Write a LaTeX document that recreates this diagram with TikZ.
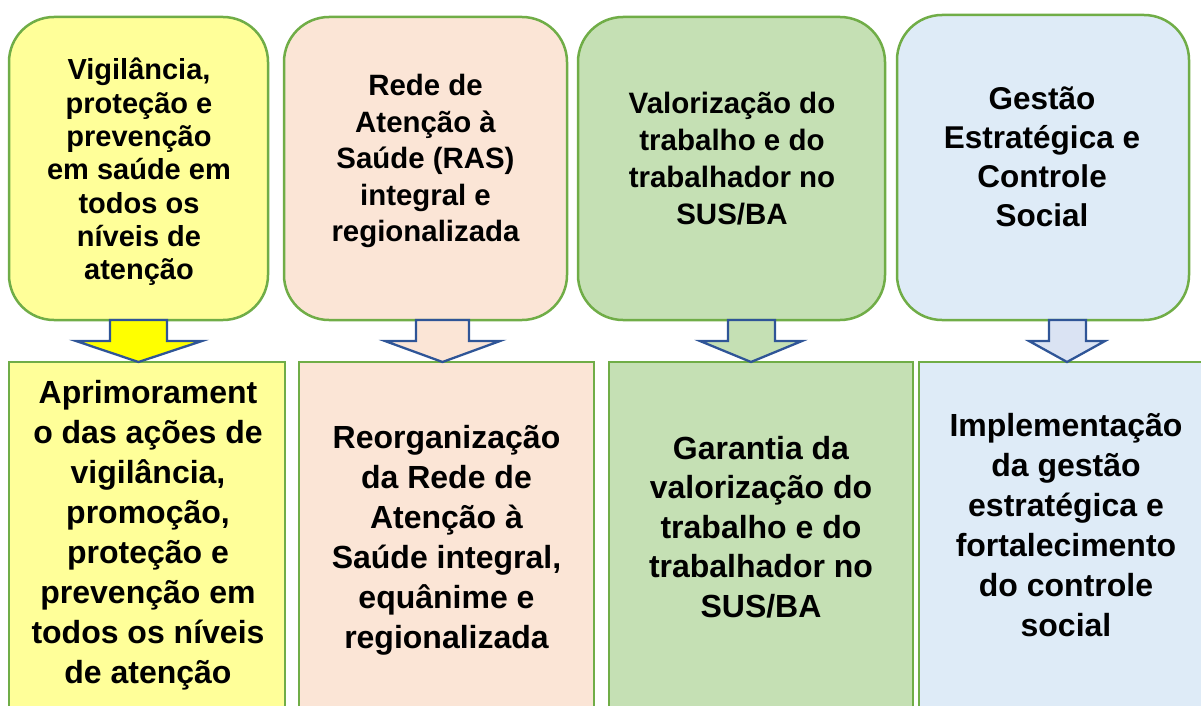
\documentclass[tikz,border=0pt]{standalone}
\usepackage{fontspec}
\setmainfont{Liberation Sans}
\definecolor{yelbox}{HTML}{FFFF99}
\definecolor{yelarrow}{HTML}{FFFF00}
\definecolor{pinkbox}{HTML}{FBE5D6}
\definecolor{greenbox}{HTML}{C5E0B4}
\definecolor{bluebox}{HTML}{DEEBF7}
\definecolor{bluearrow}{HTML}{DAE3F3}
\definecolor{bordergreen}{HTML}{70AD47}
\definecolor{arrowblue}{HTML}{2F5597}
\begin{document}
\begin{tikzpicture}[x=1pt,y=-1pt,
  topbox/.style={draw=bordergreen, line width=2.5pt, rounded corners=45pt},
  botbox/.style={draw=bordergreen, line width=2.5pt},
  lbl/.style={align=center, text=black, inner sep=0pt},
  blockarrow/.style={draw=arrowblue, line width=2.3pt, line join=miter}]
\useasboundingbox (0,0) rectangle (1201,706);
\begin{scope}
\clip (0,0) rectangle (1201,706);
% top boxes
\draw[topbox, fill=yelbox] (9,17) rectangle (268,320);
\draw[topbox, fill=pinkbox] (284,17) rectangle (567,320);
\draw[topbox, fill=greenbox] (578,17) rectangle (885,320);
\draw[topbox, fill=bluebox] (897,15) rectangle (1189,320);
% bottom boxes
\draw[botbox, fill=yelbox] (9,362) rectangle (285,720);
\draw[botbox, fill=pinkbox] (299,362) rectangle (594,720);
\draw[botbox, fill=greenbox] (609,362) rectangle (913,720);
\draw[botbox, fill=bluebox] (919,362) rectangle (1213,720);
% block arrows
\draw[blockarrow, fill=yelarrow] (110,320) -- (167,320) -- (167,341) -- (202,341) -- (138.5,362) -- (76,341) -- (110,341) -- cycle;
\draw[blockarrow, fill=pinkbox] (416,320) -- (469,320) -- (469,341) -- (500,341) -- (442.5,362) -- (385,341) -- (416,341) -- cycle;
\draw[blockarrow, fill=greenbox] (728,320) -- (775,320) -- (775,341) -- (802,341) -- (751,362) -- (700,341) -- (728,341) -- cycle;
\draw[blockarrow, fill=bluearrow] (1049,320) -- (1086,320) -- (1086,341) -- (1105,341) -- (1067,362) -- (1029,341) -- (1049,341) -- cycle;
\end{scope}
% top texts
\node[lbl, font=\bfseries\fontsize{29}{33.3}\selectfont] (t1) at (139,172)
  {Vigilância,\\proteção e\\prevenção\\em saúde em\\todos os\\níveis de\\atenção};
\node[lbl, font=\bfseries\fontsize{29.4}{36.5}\selectfont] (t2) at (425.5,161)
  {Rede de\\Atenção à\\Saúde (RAS)\\integral e\\regionalizada};
\node[lbl, font=\bfseries\fontsize{29.5}{37}\selectfont] (t3) at (732,159)
  {Valorização do\\trabalho e do\\trabalhador no\\SUS/BA};
\node[lbl, font=\bfseries\fontsize{31.5}{39}\selectfont] (t4) at (1042,157)
  {Gestão\\Estratégica e\\Controle\\Social};
% bottom texts
\node[lbl, font=\bfseries\fontsize{32}{40}\selectfont] (u1) at (148,535)
  {Aprimorament\\o das ações de\\vigilância,\\promoção,\\proteção e\\prevenção em\\todos os níveis\\de atenção};
\node[lbl, font=\bfseries\fontsize{32}{40}\selectfont] (u2) at (446.5,540)
  {Reorganização\\da Rede de\\Atenção à\\Saúde integral,\\equânime e\\regionalizada};
\node[lbl, font=\bfseries\fontsize{32}{39.5}\selectfont] (u3) at (761,527)
  {Garantia da\\valorização do\\trabalho e do\\trabalhador no\\SUS/BA};
\node[lbl, font=\bfseries\fontsize{32}{40}\selectfont] (u4) at (1066,525)
  {Implementação\\da gestão\\estratégica e\\fortalecimento\\do controle\\social};
\end{tikzpicture}
\end{document}
